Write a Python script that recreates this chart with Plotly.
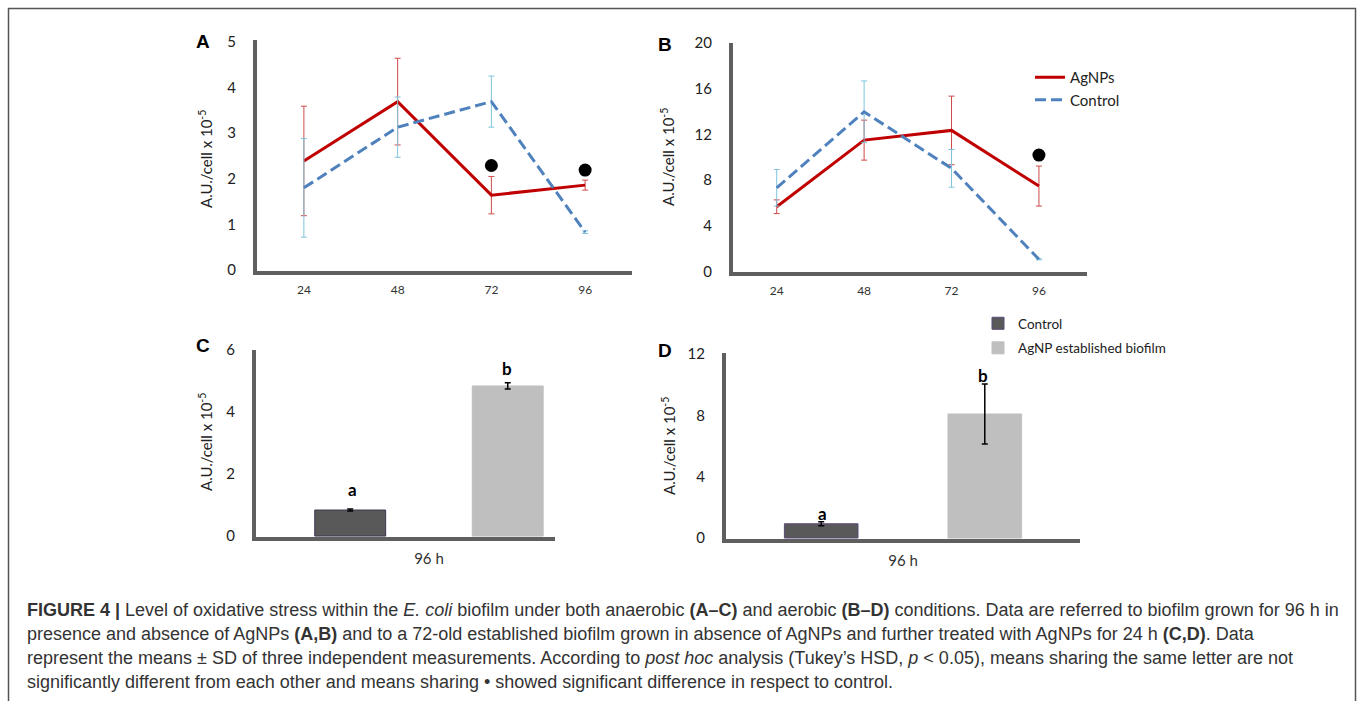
import plotly.graph_objects as go

W, H = 1358, 701

# ---------------- data ----------------
hours = ["24", "48", "72", "96"]

A_agnps = [2.39, 3.69, 1.64, 1.86]
A_agnps_sd = [1.20, 0.95, 0.41, 0.11]
A_control = [1.80, 3.13, 3.69, 0.83]
A_control_sd = [1.08, 0.66, 0.56, 0.03]
A_sig = [None, None, 2.29, 2.19]

B_agnps = [5.67, 11.50, 12.35, 7.48]
B_agnps_sd = [0.60, 1.75, 3.00, 1.75]
B_control = [7.33, 13.98, 9.03, 1.07]
B_control_sd = [1.60, 2.70, 1.65, 0.05]
B_sig = [None, None, None, 10.19]

bar_cat = ["96 h"]
C_control = [0.84]
C_control_sd = [0.03]
C_agnp = [4.84]
C_agnp_sd = [0.10]

D_control = [0.93]
D_control_sd = [0.13]
D_agnp = [8.09]
D_agnp_sd = [1.95]

# ---------------- helpers ----------------
def px_x(p):
    return p / W

def px_y(p):
    return 1 - p / H

RED = "#c00000"
RED_ERR = "#d04a4a"
BLUE = "#4f81bd"
BLUE_ERR = "#7fc4dc"
AXIS = "#5f5f5f"
FONT = "Lato"

fig = go.Figure()

# Panel A
fig.add_trace(go.Scatter(x=hours, y=A_agnps, mode="lines", name="AgNPs",
                         line=dict(color=RED, width=3),
                         error_y=dict(type="data", array=A_agnps_sd, color=RED_ERR, thickness=1, width=3),
                         xaxis="x", yaxis="y", showlegend=False))
fig.add_trace(go.Scatter(x=hours, y=A_control, mode="lines", name="Control",
                         line=dict(color=BLUE, width=3, dash="11px,5px"),
                         error_y=dict(type="data", array=A_control_sd, color=BLUE_ERR, thickness=1, width=3),
                         xaxis="x", yaxis="y", showlegend=False))
fig.add_trace(go.Scatter(x=hours, y=A_sig, mode="markers", marker=dict(color="black", size=13),
                         xaxis="x", yaxis="y", showlegend=False, name="significant"))

# Panel B
fig.add_trace(go.Scatter(x=hours, y=B_agnps, mode="lines", name="AgNPs",
                         line=dict(color=RED, width=3),
                         error_y=dict(type="data", array=B_agnps_sd, color=RED_ERR, thickness=1, width=3),
                         xaxis="x2", yaxis="y2", legend="legend"))
fig.add_trace(go.Scatter(x=hours, y=B_control, mode="lines", name="Control",
                         line=dict(color=BLUE, width=3, dash="11px,5px"),
                         error_y=dict(type="data", array=B_control_sd, color=BLUE_ERR, thickness=1, width=3),
                         xaxis="x2", yaxis="y2", legend="legend"))
fig.add_trace(go.Scatter(x=hours, y=B_sig, mode="markers", marker=dict(color="black", size=13),
                         xaxis="x2", yaxis="y2", showlegend=False, name="significant"))

# Panel C
fig.add_trace(go.Bar(x=bar_cat, y=C_control, name="Control",
                     marker=dict(color="#595959", line=dict(color="#3f3350", width=1)),
                     error_y=dict(type="data", array=C_control_sd, color="black", thickness=1.5, width=3),
                     xaxis="x3", yaxis="y3", showlegend=False))
fig.add_trace(go.Bar(x=bar_cat, y=C_agnp, name="AgNP established biofilm",
                     marker=dict(color="#bfbfbf", line=dict(color="#bfbfbf", width=1)),
                     error_y=dict(type="data", array=C_agnp_sd, color="black", thickness=1.5, width=3),
                     xaxis="x3", yaxis="y3", showlegend=False))

# Panel D
fig.add_trace(go.Bar(x=bar_cat, y=D_control, name="Control", legendgroup="ctrl",
                     marker=dict(color="#595959", line=dict(color="#5b4a7a", width=1)),
                     error_y=dict(type="data", array=D_control_sd, color="black", thickness=1.5, width=3),
                     xaxis="x4", yaxis="y4", legend="legend2"))
fig.add_trace(go.Bar(x=bar_cat, y=D_agnp, name="AgNP established biofilm", legendgroup="agnp",
                     marker=dict(color="#bfbfbf", line=dict(color="#bfbfbf", width=1)),
                     error_y=dict(type="data", array=D_agnp_sd, color="black", thickness=1.5, width=3),
                     xaxis="x4", yaxis="y4", legend="legend2"))

# ---------------- axes ----------------
def xax(d0, d1, rng, anchor, size):
    return dict(domain=[px_x(d0), px_x(d1)], anchor=anchor, type="category", range=rng,
                showline=True, linecolor=AXIS, linewidth=4, showgrid=False, zeroline=False,
                ticks="", tickfont=dict(family=FONT, size=size, color="#333"),
                ticklabelstandoff=5, fixedrange=True, automargin=False)

def yax(top, bottom, rng, anchor, dtick):
    return dict(domain=[px_y(bottom), px_y(top)], anchor=anchor, range=rng, dtick=dtick,
                showline=True, linecolor=AXIS, linewidth=4, showgrid=False, zeroline=False,
                ticks="", tickfont=dict(family=FONT, size=15, color="#222"),
                ticklabelstandoff=14, fixedrange=True, automargin=False)

layout = dict(
    width=W, height=H,
    margin=dict(l=0, r=0, t=0, b=0, pad=0, autoexpand=False),
    paper_bgcolor="white", plot_bgcolor="white",
    barmode="group", bargap=0, bargroupgap=0.55,
    xaxis=xax(257, 632, [-0.5, 3.5], "y", 12),
    yaxis=yax(40, 271, [-0.022, 5.04], "x", 1),
    xaxis2=xax(733, 1087, [-0.5, 3.55], "y2", 12),
    yaxis2=yax(43, 272, [-0.04, 20.0], "x2", 4),
    xaxis3=xax(256, 555, [-0.549, 0.400], "y3", 15),
    yaxis3=yax(350, 537, [-0.03, 6.0], "x3", 2),
    xaxis4=xax(726, 1080, [-0.541, 0.541], "y4", 15),
    yaxis4=yax(353, 539, [-0.065, 12.07], "x4", 4),
    legend=dict(x=px_x(1030), y=px_y(61), xanchor="left", yanchor="top",
                font=dict(family=FONT, size=15, color="#222"), bgcolor="rgba(0,0,0,0)",
                itemwidth=30, tracegroupgap=0),
    legend2=dict(x=px_x(978), y=px_y(308), xanchor="left", yanchor="top",
                 font=dict(family=FONT, size=13.5, color="#222"), bgcolor="rgba(0,0,0,0)",
                 itemwidth=30, tracegroupgap=4),
)
fig.update_layout(**layout)

# ---------------- annotations ----------------
def note(text, x, y, size, family=FONT, color="black", angle=0):
    return dict(text=text, x=px_x(x), y=px_y(y), xref="paper", yref="paper",
                xanchor="center", yanchor="middle", showarrow=False, textangle=angle,
                font=dict(family=family, size=size, color=color))

ann = []
for letter, x, y in [("A", 203, 42), ("B", 665, 45), ("C", 203, 346), ("D", 665, 350)]:
    ann.append(note(f"<b>{letter}</b>", x, y, 19, family="Liberation Sans"))

ytitle = "A.U./cell x 10<sup>-5</sup>"
for x, y in [(205, 159), (668, 157), (205, 442), (668, 446)]:
    ann.append(note(ytitle, x, y, 15, color="#222", angle=-90))

for t, x, y in [("a", 352, 489), ("b", 507, 368), ("a", 822, 513), ("b", 983, 375)]:
    ann.append(note(f"<b>{t}</b>", x, y, 17))

caption = [
    "<b>FIGURE 4 |</b> Level of oxidative stress within the <i>E. coli</i> biofilm under both anaerobic <b>(A–C)</b> and aerobic <b>(B–D)</b> conditions. Data are referred to biofilm grown for 96 h in",
    "presence and absence of AgNPs <b>(A,B)</b> and to a 72-old established biofilm grown in absence of AgNPs and further treated with AgNPs for 24 h <b>(C,D)</b>. Data",
    "represent the means ± SD of three independent measurements. According to <i>post hoc</i> analysis (Tukey’s HSD, <i>p</i> &lt; 0.05), means sharing the same letter are not",
    "significantly different from each other and means sharing • showed significant difference in respect to control.",
]
for i, line in enumerate(caption):
    ann.append(dict(text=line, x=px_x(25), y=px_y(610 + 24 * i), xref="paper", yref="paper",
                    xanchor="left", yanchor="middle", showarrow=False, align="left",
                    font=dict(family="Liberation Sans", size=18, color="#333")))

fig.update_layout(annotations=ann)

fig.add_shape(type="rect", xref="paper", yref="paper",
              x0=px_x(8.5), x1=px_x(1355.5), y0=-0.2, y1=px_y(8.5),
              line=dict(color="#555", width=1.5))

post = ("document.documentElement.style.margin='0';document.body.style.margin='0';"
        "document.body.style.overflow='hidden';"
        "var d=document.getElementById('{plot_id}');"
        "d.style.position='fixed';d.style.left='0px';d.style.top='0px';")

fig.write_html("out.html", post_script=post, config={"displayModeBar": False})
